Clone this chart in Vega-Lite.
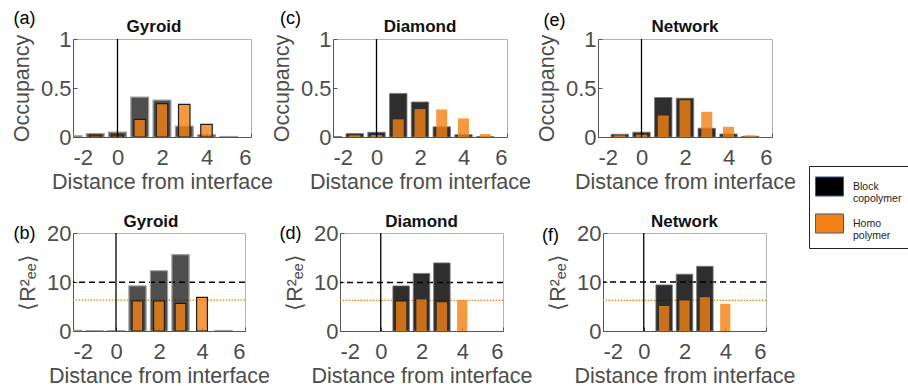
{
  "$schema": "https://vega.github.io/schema/vega-lite/v6.json",
  "padding": {"left": 10, "top": 8, "right": 0, "bottom": 0},
  "bounds": "flush",
  "datasets": {
    "iface": [{"d": 0}],
    "occ": [
      {"panel": "a", "series": "Block copolymer", "x": -2, "y": 0.013},
      {"panel": "a", "series": "Block copolymer", "x": -1, "y": 0.035},
      {"panel": "a", "series": "Block copolymer", "x": 0, "y": 0.05},
      {"panel": "a", "series": "Block copolymer", "x": 1, "y": 0.407},
      {"panel": "a", "series": "Block copolymer", "x": 2, "y": 0.377},
      {"panel": "a", "series": "Block copolymer", "x": 3, "y": 0.11},
      {"panel": "a", "series": "Block copolymer", "x": 4, "y": 0.023},
      {"panel": "a", "series": "Block copolymer", "x": 5, "y": 0.005},
      {"panel": "a", "series": "Homo polymer", "x": -1, "y": 0.02},
      {"panel": "a", "series": "Homo polymer", "x": 0, "y": 0.02},
      {"panel": "a", "series": "Homo polymer", "x": 1, "y": 0.18},
      {"panel": "a", "series": "Homo polymer", "x": 2, "y": 0.34},
      {"panel": "a", "series": "Homo polymer", "x": 3, "y": 0.333},
      {"panel": "a", "series": "Homo polymer", "x": 4, "y": 0.128},
      {"panel": "c", "series": "Block copolymer", "x": -2, "y": 0.004},
      {"panel": "c", "series": "Block copolymer", "x": -1, "y": 0.035},
      {"panel": "c", "series": "Block copolymer", "x": 0, "y": 0.048},
      {"panel": "c", "series": "Block copolymer", "x": 1, "y": 0.445},
      {"panel": "c", "series": "Block copolymer", "x": 2, "y": 0.357},
      {"panel": "c", "series": "Block copolymer", "x": 3, "y": 0.104},
      {"panel": "c", "series": "Block copolymer", "x": 4, "y": 0.024},
      {"panel": "c", "series": "Block copolymer", "x": 5, "y": 0.004},
      {"panel": "c", "series": "Homo polymer", "x": -1, "y": 0.017},
      {"panel": "c", "series": "Homo polymer", "x": 0, "y": 0.02},
      {"panel": "c", "series": "Homo polymer", "x": 1, "y": 0.18},
      {"panel": "c", "series": "Homo polymer", "x": 2, "y": 0.285},
      {"panel": "c", "series": "Homo polymer", "x": 3, "y": 0.281},
      {"panel": "c", "series": "Homo polymer", "x": 4, "y": 0.19},
      {"panel": "c", "series": "Homo polymer", "x": 5, "y": 0.031},
      {"panel": "e", "series": "Block copolymer", "x": -1, "y": 0.028},
      {"panel": "e", "series": "Block copolymer", "x": 0, "y": 0.049},
      {"panel": "e", "series": "Block copolymer", "x": 1, "y": 0.403},
      {"panel": "e", "series": "Block copolymer", "x": 2, "y": 0.396},
      {"panel": "e", "series": "Block copolymer", "x": 3, "y": 0.09},
      {"panel": "e", "series": "Block copolymer", "x": 4, "y": 0.031},
      {"panel": "e", "series": "Block copolymer", "x": 5, "y": 0.007},
      {"panel": "e", "series": "Homo polymer", "x": -1, "y": 0.017},
      {"panel": "e", "series": "Homo polymer", "x": 0, "y": 0.024},
      {"panel": "e", "series": "Homo polymer", "x": 1, "y": 0.219},
      {"panel": "e", "series": "Homo polymer", "x": 2, "y": 0.375},
      {"panel": "e", "series": "Homo polymer", "x": 3, "y": 0.257},
      {"panel": "e", "series": "Homo polymer", "x": 4, "y": 0.104},
      {"panel": "e", "series": "Homo polymer", "x": 5, "y": 0.017}
    ],
    "ree": [
      {"panel": "b", "series": "Block copolymer", "x": -2, "y": 0.15},
      {"panel": "b", "series": "Block copolymer", "x": -1, "y": 0.08},
      {"panel": "b", "series": "Block copolymer", "x": 0, "y": 0.08},
      {"panel": "b", "series": "Block copolymer", "x": 1, "y": 9.2},
      {"panel": "b", "series": "Block copolymer", "x": 2, "y": 12.3},
      {"panel": "b", "series": "Block copolymer", "x": 3, "y": 15.6},
      {"panel": "b", "series": "Block copolymer", "x": 5, "y": 0.1},
      {"panel": "b", "series": "Homo polymer", "x": 1, "y": 6.12},
      {"panel": "b", "series": "Homo polymer", "x": 2, "y": 6.12},
      {"panel": "b", "series": "Homo polymer", "x": 3, "y": 5.65},
      {"panel": "b", "series": "Homo polymer", "x": 4, "y": 6.85},
      {"panel": "d", "series": "Block copolymer", "x": 1, "y": 9.2},
      {"panel": "d", "series": "Block copolymer", "x": 2, "y": 11.75},
      {"panel": "d", "series": "Block copolymer", "x": 3, "y": 13.9},
      {"panel": "d", "series": "Homo polymer", "x": 1, "y": 6.0},
      {"panel": "d", "series": "Homo polymer", "x": 2, "y": 6.45},
      {"panel": "d", "series": "Homo polymer", "x": 3, "y": 5.85},
      {"panel": "d", "series": "Homo polymer", "x": 4, "y": 6.3},
      {"panel": "f", "series": "Block copolymer", "x": 1, "y": 9.4},
      {"panel": "f", "series": "Block copolymer", "x": 2, "y": 11.6},
      {"panel": "f", "series": "Block copolymer", "x": 3, "y": 13.2},
      {"panel": "f", "series": "Homo polymer", "x": 1, "y": 5.1},
      {"panel": "f", "series": "Homo polymer", "x": 2, "y": 6.25},
      {"panel": "f", "series": "Homo polymer", "x": 3, "y": 6.9},
      {"panel": "f", "series": "Homo polymer", "x": 4, "y": 5.55}
    ],
    "refs": [
      {"panel": "b", "series": "Block copolymer", "y": 9.95},
      {"panel": "b", "series": "Homo polymer", "y": 6.3},
      {"panel": "d", "series": "Block copolymer", "y": 9.9},
      {"panel": "d", "series": "Homo polymer", "y": 6.25},
      {"panel": "f", "series": "Block copolymer", "y": 10},
      {"panel": "f", "series": "Homo polymer", "y": 6.25}
    ]
  },
  "config": {
    "font": "Liberation Sans",
    "view": {"stroke": "#b4b4b4", "strokeWidth": 1},
    "scale": {"continuousPadding": 0},
    "axis": {"grid": false, "labelFont": "Liberation Sans", "labelFontSize": 22, "labelColor": "#4d4d4d", "titleFont": "Liberation Sans", "titleFontSize": 21.5, "titleColor": "#4d4d4d", "titleFontWeight": "normal", "domainColor": "#555", "tickColor": "#555", "tickSize": -4, "domainWidth": 1},
    "axisX": {"labelPadding": 14, "titlePadding": 3},
    "axisY": {"labelPadding": 6, "titlePadding": 7},
    "title": {"fontSize": 17, "fontWeight": "bold", "color": "#111", "font": "Liberation Sans"}
  },
  "vconcat": [
    {
      "bounds": "flush",
      "spacing": 82,
      "hconcat": [
        {
          "width": 178, "height": 98,
          "title": {"text": "Gyroid", "dx": -8, "offset": -27},
          "resolve": {"axis": {"x": "independent"}},
          "layer": [
            {
              "data": {"name": "occ"},
              "transform": [{"filter": "datum.panel == 'a' && datum.series == 'Block copolymer'"}],
              "mark": {"type": "bar", "width": 17.8, "clip": true, "fillOpacity": 0.69, "stroke": "#a0a0a0", "strokeWidth": 1.2},
              "encoding": {
                "x": {"field": "x", "type": "quantitative", "scale": {"domain": [-2, 6], "padding": 0, "nice": false, "zero": false}, "axis": {"values": [-2, 0, 2, 4, 6], "labelExpr": "datum.value < 0 ? '-' + abs(datum.value) : '' + datum.value", "title": "Distance from interface"}},
                "y": {"field": "y", "type": "quantitative", "scale": {"domain": [0, 1]}, "axis": {"values": [0, 0.5, 1], "format": "~g", "title": "Occupancy"}},
                "color": {"field": "series", "type": "nominal", "scale": {"domain": ["Block copolymer", "Homo polymer"], "range": ["#000000", "#F28113"]},
                  "legend": {"orient": "none", "legendX": 736, "legendY": 127, "title": null, "padding": 6, "strokeColor": "#222", "fillColor": "#ffffff", "rowPadding": 4, "symbolType": "M-1,-0.68L1,-0.68L1,0.68L-1,0.68Z", "symbolSize": 784, "symbolStrokeColor": "#3b5a9a", "symbolStrokeWidth": 1, "symbolOpacity": 1, "labelOffset": 9, "labelFontSize": 10.5, "labelColor": "#222", "labelExpr": "split(datum.label, ' ')"}}
              }
            },
            {
              "data": {"name": "occ"},
              "transform": [{"filter": "datum.panel == 'a' && datum.series == 'Homo polymer'"}],
              "mark": {"type": "bar", "width": 11.5, "clip": true, "fillOpacity": 0.8, "stroke": "#1e1e1e", "strokeWidth": 1.2},
              "encoding": {
                "x": {"field": "x", "type": "quantitative", "axis": null},
                "y": {"field": "y", "type": "quantitative"},
                "color": {"field": "series", "type": "nominal",
                  "legend": {"orient": "none", "legendX": 736, "legendY": 127, "title": null, "padding": 6, "strokeColor": "#222", "fillColor": "#ffffff", "rowPadding": 4, "symbolType": "M-1,-0.68L1,-0.68L1,0.68L-1,0.68Z", "symbolSize": 784, "symbolStrokeColor": "#3b5a9a", "symbolStrokeWidth": 1, "symbolOpacity": 1, "labelOffset": 9, "labelFontSize": 10.5, "labelColor": "#222", "labelExpr": "split(datum.label, ' ')"}}
              }
            },
            {
              "data": {"name": "iface"},
              "mark": {"type": "rule", "color": "#000", "strokeWidth": 1.3},
              "encoding": {
                "x": {"field": "d", "type": "quantitative", "axis": {"orient": "top", "labels": false, "ticks": false, "domain": false, "title": "(a)", "titleX": -49, "titleY": -21, "titleAngle": 0, "titleAlign": "center", "titleBaseline": "middle", "titleColor": "#000", "titleFontSize": 18}}
              }
            }
          ]
        },
        {
          "bounds": "flush",
          "spacing": 91,
          "hconcat": [
            {
              "width": 174, "height": 98,
              "title": {"text": "Diamond", "offset": -27},
              "resolve": {"axis": {"x": "independent"}},
              "layer": [
                {
                  "data": {"name": "occ"},
                  "transform": [{"filter": "datum.panel == 'c' && datum.series == 'Block copolymer'"}],
                  "mark": {"type": "bar", "width": 17.4, "clip": true, "fill": "#000", "fillOpacity": 0.82, "stroke": "#777", "strokeWidth": 0.8},
                  "encoding": {
                    "x": {"field": "x", "type": "quantitative", "scale": {"domain": [-2, 6], "padding": 0, "nice": false, "zero": false}, "axis": {"values": [-2, 0, 2, 4, 6], "labelExpr": "datum.value < 0 ? '-' + abs(datum.value) : '' + datum.value", "title": "Distance from interface"}},
                    "y": {"field": "y", "type": "quantitative", "scale": {"domain": [0, 1]}, "axis": {"values": [0, 0.5, 1], "format": "~g", "title": "Occupancy"}}
                  }
                },
                {
                  "data": {"name": "occ"},
                  "transform": [{"filter": "datum.panel == 'c' && datum.series == 'Homo polymer'"}],
                  "mark": {"type": "bar", "width": 11, "clip": true, "fill": "#F28113", "fillOpacity": 0.8},
                  "encoding": {
                    "x": {"field": "x", "type": "quantitative", "axis": null},
                    "y": {"field": "y", "type": "quantitative"}
                  }
                },
                {
                  "data": {"name": "iface"},
                  "mark": {"type": "rule", "color": "#000", "strokeWidth": 1.3},
                  "encoding": {
                    "x": {"field": "d", "type": "quantitative", "axis": {"orient": "top", "labels": false, "ticks": false, "domain": false, "title": "(c)", "titleX": -43, "titleY": -21, "titleAngle": 0, "titleAlign": "center", "titleBaseline": "middle", "titleColor": "#000", "titleFontSize": 18}}
                  }
                }
              ]
            },
            {
              "width": 174, "height": 98,
              "title": {"text": "Network", "offset": -25},
              "resolve": {"axis": {"x": "independent"}},
              "layer": [
                {
                  "data": {"name": "occ"},
                  "transform": [{"filter": "datum.panel == 'e' && datum.series == 'Block copolymer'"}],
                  "mark": {"type": "bar", "width": 17.4, "clip": true, "fill": "#000", "fillOpacity": 0.82, "stroke": "#777", "strokeWidth": 0.8},
                  "encoding": {
                    "x": {"field": "x", "type": "quantitative", "scale": {"domain": [-2, 6], "padding": 0, "nice": false, "zero": false}, "axis": {"values": [-2, 0, 2, 4, 6], "labelExpr": "datum.value < 0 ? '-' + abs(datum.value) : '' + datum.value", "title": "Distance from interface"}},
                    "y": {"field": "y", "type": "quantitative", "scale": {"domain": [0, 1]}, "axis": {"values": [0, 0.5, 1], "format": "~g", "title": "Occupancy"}}
                  }
                },
                {
                  "data": {"name": "occ"},
                  "transform": [{"filter": "datum.panel == 'e' && datum.series == 'Homo polymer'"}],
                  "mark": {"type": "bar", "width": 11, "clip": true, "fill": "#F28113", "fillOpacity": 0.8},
                  "encoding": {
                    "x": {"field": "x", "type": "quantitative", "axis": null},
                    "y": {"field": "y", "type": "quantitative"}
                  }
                },
                {
                  "data": {"name": "iface"},
                  "mark": {"type": "rule", "color": "#000", "strokeWidth": 1.3},
                  "encoding": {
                    "x": {"field": "d", "type": "quantitative", "axis": {"orient": "top", "labels": false, "ticks": false, "domain": false, "title": "(e)", "titleX": -44, "titleY": -19, "titleAngle": 0, "titleAlign": "center", "titleBaseline": "middle", "titleColor": "#000", "titleFontSize": 18}}
                  }
                }
              ]
            }
          ]
        }
      ]
    },
    {
      "bounds": "flush",
      "spacing": 95,
      "hconcat": [
        {
          "width": 172, "height": 98,
          "title": {"text": "Gyroid", "dx": -8, "offset": -9},
          "resolve": {"axis": {"x": "independent"}},
          "layer": [
            {
              "data": {"name": "refs"},
              "transform": [{"filter": "datum.panel == 'b' && datum.series == 'Block copolymer'"}],
              "mark": {"type": "rule", "color": "#000", "strokeWidth": 1.3, "strokeDash": [6, 4]},
              "encoding": {"y": {"field": "y", "type": "quantitative", "scale": {"domain": [0, 20]}, "axis": {"values": [0, 10, 20], "title": "⟨R²ₑₑ⟩"}}}
            },
            {
              "data": {"name": "refs"},
              "transform": [{"filter": "datum.panel == 'b' && datum.series == 'Homo polymer'"}],
              "mark": {"type": "rule", "color": "#F28113", "strokeWidth": 1.2, "strokeDash": [1.5, 1.5]},
              "encoding": {"y": {"field": "y", "type": "quantitative", "axis": {"values": [0, 10, 20], "title": "⟨R²ₑₑ⟩"}}}
            },
            {
              "data": {"name": "ree"},
              "transform": [{"filter": "datum.panel == 'b' && datum.series == 'Block copolymer'"}],
              "mark": {"type": "bar", "width": 17.2, "clip": true, "fill": "#000", "fillOpacity": 0.69, "stroke": "#a0a0a0", "strokeWidth": 1.2},
              "encoding": {
                "x": {"field": "x", "type": "quantitative", "scale": {"domain": [-2, 6], "padding": 0, "nice": false, "zero": false}, "axis": {"values": [-2, 0, 2, 4, 6], "labelExpr": "datum.value < 0 ? '-' + abs(datum.value) : '' + datum.value", "title": "Distance from interface"}},
                "y": {"field": "y", "type": "quantitative", "axis": {"values": [0, 10, 20], "title": "⟨R²ₑₑ⟩"}}
              }
            },
            {
              "data": {"name": "ree"},
              "transform": [{"filter": "datum.panel == 'b' && datum.series == 'Homo polymer'"}],
              "mark": {"type": "bar", "width": 10.8, "clip": true, "fill": "#F28113", "fillOpacity": 0.8, "stroke": "#1e1e1e", "strokeWidth": 1.2},
              "encoding": {
                "x": {"field": "x", "type": "quantitative", "axis": null},
                "y": {"field": "y", "type": "quantitative", "axis": {"values": [0, 10, 20], "title": "⟨R²ₑₑ⟩"}}
              }
            },
            {
              "data": {"name": "iface"},
              "mark": {"type": "rule", "color": "#000", "strokeWidth": 1.3},
              "encoding": {
                "x": {"field": "d", "type": "quantitative", "axis": {"orient": "top", "labels": false, "ticks": false, "domain": false, "title": "(b)", "titleX": -49, "titleY": 0, "titleAngle": 0, "titleAlign": "center", "titleBaseline": "middle", "titleColor": "#000", "titleFontSize": 18}}
              }
            }
          ]
        },
        {
          "bounds": "flush",
          "spacing": 100,
          "hconcat": [
            {
              "width": 163, "height": 98,
              "title": {"text": "Diamond", "offset": -9},
              "resolve": {"axis": {"x": "independent"}},
              "layer": [
                {
                  "data": {"name": "refs"},
                  "transform": [{"filter": "datum.panel == 'd' && datum.series == 'Block copolymer'"}],
                  "mark": {"type": "rule", "color": "#000", "strokeWidth": 1.3, "strokeDash": [6, 4]},
                  "encoding": {"y": {"field": "y", "type": "quantitative", "scale": {"domain": [0, 20]}, "axis": {"values": [0, 10, 20], "title": "⟨R²ₑₑ⟩"}}}
                },
                {
                  "data": {"name": "refs"},
                  "transform": [{"filter": "datum.panel == 'd' && datum.series == 'Homo polymer'"}],
                  "mark": {"type": "rule", "color": "#F28113", "strokeWidth": 1.2, "strokeDash": [1.5, 1.5]},
                  "encoding": {"y": {"field": "y", "type": "quantitative", "axis": {"values": [0, 10, 20], "title": "⟨R²ₑₑ⟩"}}}
                },
                {
                  "data": {"name": "ree"},
                  "transform": [{"filter": "datum.panel == 'd' && datum.series == 'Block copolymer'"}],
                  "mark": {"type": "bar", "width": 16.5, "clip": true, "fill": "#000", "fillOpacity": 0.82, "stroke": "#777", "strokeWidth": 0.8},
                  "encoding": {
                    "x": {"field": "x", "type": "quantitative", "scale": {"domain": [-2, 6], "padding": 0, "nice": false, "zero": false}, "axis": {"values": [-2, 0, 2, 4, 6], "labelExpr": "datum.value < 0 ? '-' + abs(datum.value) : '' + datum.value", "title": "Distance from interface"}},
                    "y": {"field": "y", "type": "quantitative", "axis": {"values": [0, 10, 20], "title": "⟨R²ₑₑ⟩"}}
                  }
                },
                {
                  "data": {"name": "ree"},
                  "transform": [{"filter": "datum.panel == 'd' && datum.series == 'Homo polymer'"}],
                  "mark": {"type": "bar", "width": 10.3, "clip": true, "fill": "#F28113", "fillOpacity": 0.8},
                  "encoding": {
                    "x": {"field": "x", "type": "quantitative", "axis": null},
                    "y": {"field": "y", "type": "quantitative", "axis": {"values": [0, 10, 20], "title": "⟨R²ₑₑ⟩"}}
                  }
                },
                {
                  "data": {"name": "iface"},
                  "mark": {"type": "rule", "color": "#000", "strokeWidth": 1.3},
                  "encoding": {
                    "x": {"field": "d", "type": "quantitative", "axis": {"orient": "top", "labels": false, "ticks": false, "domain": false, "title": "(d)", "titleX": -50, "titleY": 0, "titleAngle": 0, "titleAlign": "center", "titleBaseline": "middle", "titleColor": "#000", "titleFontSize": 18}}
                  }
                }
              ]
            },
            {
              "width": 163, "height": 98,
              "title": {"text": "Network", "offset": -9},
              "resolve": {"axis": {"x": "independent"}},
              "layer": [
                {
                  "data": {"name": "refs"},
                  "transform": [{"filter": "datum.panel == 'f' && datum.series == 'Block copolymer'"}],
                  "mark": {"type": "rule", "color": "#000", "strokeWidth": 1.3, "strokeDash": [6, 4]},
                  "encoding": {"y": {"field": "y", "type": "quantitative", "scale": {"domain": [0, 20]}, "axis": {"values": [0, 10, 20], "title": "⟨R²ₑₑ⟩"}}}
                },
                {
                  "data": {"name": "refs"},
                  "transform": [{"filter": "datum.panel == 'f' && datum.series == 'Homo polymer'"}],
                  "mark": {"type": "rule", "color": "#F28113", "strokeWidth": 1.2, "strokeDash": [1.5, 1.5]},
                  "encoding": {"y": {"field": "y", "type": "quantitative", "axis": {"values": [0, 10, 20], "title": "⟨R²ₑₑ⟩"}}}
                },
                {
                  "data": {"name": "ree"},
                  "transform": [{"filter": "datum.panel == 'f' && datum.series == 'Block copolymer'"}],
                  "mark": {"type": "bar", "width": 16.5, "clip": true, "fill": "#000", "fillOpacity": 0.82, "stroke": "#777", "strokeWidth": 0.8},
                  "encoding": {
                    "x": {"field": "x", "type": "quantitative", "scale": {"domain": [-2, 6], "padding": 0, "nice": false, "zero": false}, "axis": {"values": [-2, 0, 2, 4, 6], "labelExpr": "datum.value < 0 ? '-' + abs(datum.value) : '' + datum.value", "title": "Distance from interface"}},
                    "y": {"field": "y", "type": "quantitative", "axis": {"values": [0, 10, 20], "title": "⟨R²ₑₑ⟩"}}
                  }
                },
                {
                  "data": {"name": "ree"},
                  "transform": [{"filter": "datum.panel == 'f' && datum.series == 'Homo polymer'"}],
                  "mark": {"type": "bar", "width": 10.3, "clip": true, "fill": "#F28113", "fillOpacity": 0.8},
                  "encoding": {
                    "x": {"field": "x", "type": "quantitative", "axis": null},
                    "y": {"field": "y", "type": "quantitative", "axis": {"values": [0, 10, 20], "title": "⟨R²ₑₑ⟩"}}
                  }
                },
                {
                  "data": {"name": "iface"},
                  "mark": {"type": "rule", "color": "#000", "strokeWidth": 1.3},
                  "encoding": {
                    "x": {"field": "d", "type": "quantitative", "axis": {"orient": "top", "labels": false, "ticks": false, "domain": false, "title": "(f)", "titleX": -53, "titleY": 2, "titleAngle": 0, "titleAlign": "center", "titleBaseline": "middle", "titleColor": "#000", "titleFontSize": 18}}
                  }
                }
              ]
            }
          ]
        }
      ]
    }
  ],
  "spacing": 194
}
